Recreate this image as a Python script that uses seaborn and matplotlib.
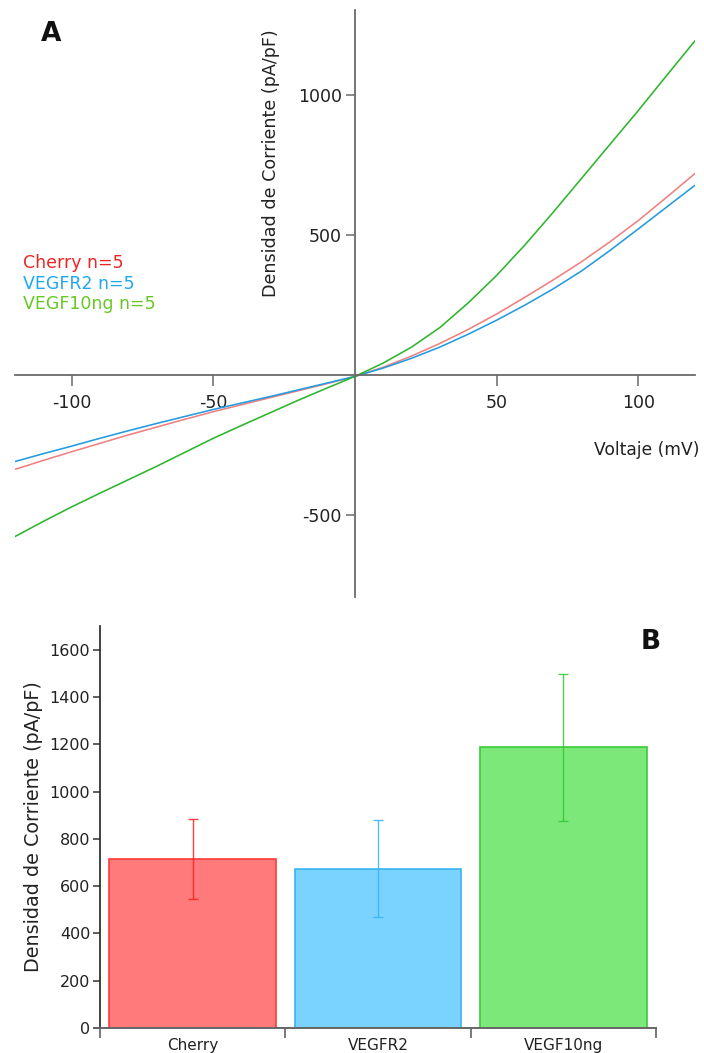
import numpy as np
import pandas as pd
import matplotlib
matplotlib.use("Agg")
import matplotlib.pyplot as plt
import seaborn as sns

# ---------------- data: panel A (I-V curves) ----------------
voltage = [-120, -110, -100, -90, -80, -70, -60, -50, -40, -30, -20, -10, 0,
           10, 20, 30, 40, 50, 60, 70, 80, 90, 100, 110, 120]
cherry_iv = [-337, -305, -274, -244, -214, -186, -158, -131, -106, -81, -56, -31, -5,
             28, 68, 113, 163, 218, 278, 340, 405, 476, 552, 635, 720]
vegfr2_iv = [-309, -281, -254, -226, -199, -173, -148, -123, -100, -77, -53, -29, -5,
             25, 60, 100, 146, 196, 250, 308, 372, 445, 522, 600, 678]
vegf10_iv = [-577, -523, -471, -422, -374, -326, -276, -226, -180, -135, -90, -47, -5,
             43, 100, 170, 258, 356, 465, 582, 703, 824, 945, 1070, 1194]
series_names = ["Cherry", "VEGFR2", "VEGF10ng"]
legend_labels = ["Cherry n=5", "VEGFR2 n=5", "VEGF10ng n=5"]
x_ticks_A = [-100, -50, 50, 100]
y_ticks_A = [-500, 500, 1000]

# ---------------- data: panel B (bars) ----------------
bar_groups = ["Cherry", "VEGFR2", "VEGF10ng"]
bar_means = [715, 674, 1187]
bar_sem = [170, 205, 312]
y_ticks_B = [0, 200, 400, 600, 800, 1000, 1200, 1400, 1600]

# ---------------- style ----------------
line_colors = {"Cherry": "#F08080", "VEGFR2": "#229BE0", "VEGF10ng": "#2DB52D"}
text_colors = ["#EE2424", "#1FA8EE", "#66C824"]
fill_colors = {"Cherry": "#FF7B7B", "VEGFR2": "#7AD3FF", "VEGF10ng": "#7DE87A"}
edge_colors = ["#FF3A3A", "#38B4F2", "#38CC38"]
err_colors = ["#FF1E1E", "#36B2F0", "#30C830"]

sns.set_style("ticks")
plt.rcParams["font.family"] = ["DejaVu Sans"]
plt.rcParams["axes.unicode_minus"] = False

fig = plt.figure(figsize=(7.04, 10.53), dpi=100)

# ================= Panel A =================
W, H = 704, 1053
axA = fig.add_axes([15 / W, 1 - 597 / H, 680 / W, 587 / H])
dfA = pd.DataFrame({
    "V": voltage * 3,
    "I": cherry_iv + vegfr2_iv + vegf10_iv,
    "group": np.repeat(series_names, len(voltage)),
})
sns.lineplot(data=dfA, x="V", y="I", hue="group", palette=line_colors,
             estimator=None, sort=False, linewidth=1.15, legend=False, ax=axA)
axA.set_xlim(-120, 120)
axA.set_ylim(-793, 1304)
axA.spines["left"].set_position(("data", 0))
axA.spines["bottom"].set_position(("data", 0))
axA.spines["top"].set_visible(False)
axA.spines["right"].set_visible(False)
for s in ("left", "bottom"):
    axA.spines[s].set_color("#6a6a6a")
    axA.spines[s].set_linewidth(1.3)
axA.set_xticks(x_ticks_A)
axA.set_yticks(y_ticks_A)
axA.tick_params(axis="x", direction="out", length=8, width=1.1, color="#6a6a6a",
                pad=6, labelsize=12.5, labelcolor="#222222")
axA.tick_params(axis="y", direction="out", length=6.5, width=1.1, color="#6a6a6a",
                pad=3, labelsize=12.5, labelcolor="#222222")
axA.set_xlabel("")
axA.set_ylabel("")
axA.patch.set_alpha(0)
axA.text(0.377, 0.739, "Densidad de Corriente (pA/pF)", rotation=90,
         transform=axA.transAxes, ha="center", va="center", fontsize=12.6,
         color="#222222")
axA.text(1.006, 0.25, "Voltaje (mV)", transform=axA.transAxes, ha="right",
         va="center", fontsize=12.3, color="#222222")
for lab, col, yy in zip(legend_labels, text_colors, [263, 284, 304]):
    fig.text(23 / W, 1 - yy / H, lab, color=col, fontsize=12.5, ha="left", va="center")
fig.text(51 / W, 1 - 34 / H, "A", fontsize=19, fontweight="bold", ha="center",
         va="center", color="#111111")

# ================= Panel B =================
axB = fig.add_axes([100 / W, 1 - 1028 / H, 556 / W, 402 / H])
dfB = pd.DataFrame({"group": bar_groups, "mean": bar_means})
sns.barplot(data=dfB, x="group", y="mean", hue="group", palette=fill_colors,
            order=bar_groups, hue_order=bar_groups, width=0.9, saturation=1,
            errorbar=None, legend=False, ax=axB)
for patch, ec in zip(axB.patches, edge_colors):
    patch.set_edgecolor(ec)
    patch.set_linewidth(1.2)
for i, (m, e, c) in enumerate(zip(bar_means, bar_sem, err_colors)):
    axB.errorbar(i, m, yerr=e, color=c, capsize=3.3, elinewidth=1.0,
                 capthick=1.0, alpha=0.85, zorder=5)
axB.set_xlim(-0.5, 2.5)
axB.set_ylim(0, 1700)
axB.set_yticks(y_ticks_B)
axB.set_xticks(range(len(bar_groups)))
axB.set_xticklabels(bar_groups)
axB.set_xticks([-0.5, 0.5, 1.5, 2.5], minor=True)
axB.tick_params(axis="x", which="major", length=0, pad=7, labelsize=11,
                labelcolor="#222222")
axB.tick_params(axis="x", which="minor", direction="out", length=7, width=1.1,
                color="#555555")
axB.tick_params(axis="y", direction="out", length=5, width=1.1, color="#333333",
                labelsize=11.5, labelcolor="#222222", pad=2)
axB.spines["top"].set_visible(False)
axB.spines["right"].set_visible(False)
axB.spines["left"].set_color("#222222")
axB.spines["bottom"].set_color("#666666")
axB.spines["left"].set_linewidth(1.2)
axB.spines["bottom"].set_linewidth(1.4)
axB.set_xlabel("")
axB.set_ylabel("Densidad de Corriente (pA/pF)", fontsize=13.8, color="#222222",
               labelpad=5)
fig.text(651 / W, 1 - 642 / H, "B", fontsize=19, fontweight="bold", ha="center",
         va="center", color="#111111")

fig.savefig("out.png", dpi=100)
